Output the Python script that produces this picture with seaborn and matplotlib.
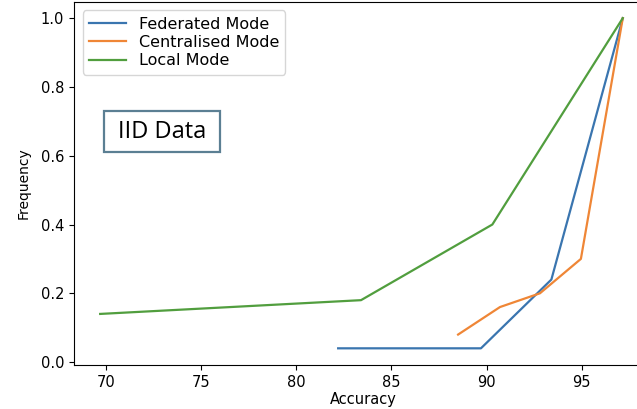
import matplotlib
matplotlib.use("Agg")
import matplotlib.pyplot as plt
from matplotlib.patches import Rectangle
import pandas as pd
import seaborn as sns

# Accuracy (x) and cumulative frequency (y) for each training mode
federated_acc = [82.2, 89.7, 93.4, 97.15]
federated_freq = [0.04, 0.04, 0.24, 1.0]

centralised_acc = [88.5, 90.7, 92.8, 94.95, 97.15]
centralised_freq = [0.08, 0.16, 0.20, 0.30, 1.0]

local_acc = [69.7, 83.4, 90.3, 97.15]
local_freq = [0.14, 0.18, 0.40, 1.0]

modes = ["Federated Mode", "Centralised Mode", "Local Mode"]
colors = ["#3a75af", "#ef8636", "#519e3e"]

frames = []
for mode, acc, freq in [
    (modes[0], federated_acc, federated_freq),
    (modes[1], centralised_acc, centralised_freq),
    (modes[2], local_acc, local_freq),
]:
    frames.append(pd.DataFrame({"Accuracy": acc, "Frequency": freq, "Mode": mode}))
df = pd.concat(frames, ignore_index=True)

plt.rcParams["font.family"] = ["DejaVu Sans"]
fig = plt.figure(figsize=(6.37, 4.09), dpi=100)
ax = fig.add_axes([0.116, 0.108, 0.908, 0.888])

sns.lineplot(
    data=df, x="Accuracy", y="Frequency", hue="Mode", hue_order=modes,
    palette=colors, estimator=None, sort=False, linewidth=1.6, ax=ax,
)

ax.set_xlim(68.32, 98.7)
ax.set_ylim(-0.008, 1.048)
ax.spines["right"].set_visible(False)
ax.set_xticks([70, 75, 80, 85, 90, 95])
ax.set_yticks([0.0, 0.2, 0.4, 0.6, 0.8, 1.0])
ax.tick_params(labelsize=10.5)
ax.set_xlabel("Accuracy", fontsize=10.5, labelpad=1.5)
ax.set_ylabel("Frequency", fontsize=10, labelpad=7)

ax.legend(loc="upper left", fontsize=11.5, title=None,
          labelspacing=0.2, handlelength=2.3, borderaxespad=0.55)

# Annotation box
ax.add_patch(Rectangle((0.0519, 0.5856), 0.2007, 0.1129, transform=ax.transAxes,
                       facecolor="white", edgecolor="#5b7f93", linewidth=1.6,
                       zorder=5))
ax.text(0.1522, 0.642, "IID Data", transform=ax.transAxes, ha="center",
        va="center", fontsize=17, family=["Open Sans", "DejaVu Sans"], zorder=6)

fig.savefig("out.png", dpi=100)
